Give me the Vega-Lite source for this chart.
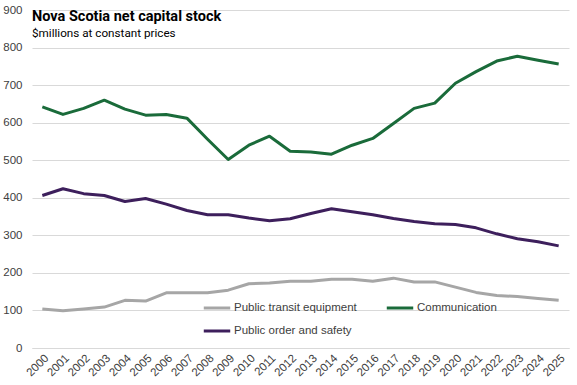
{
  "$schema": "https://vega.github.io/schema/vega-lite/v6.json",
  "width": 537,
  "height": 338,
  "autosize": {"type": "none"},
  "padding": {"left": 32, "top": 10, "right": 8, "bottom": 37},
  "background": "white",
  "config": {
    "view": {"stroke": null},
    "font": "Liberation Sans"
  },
  "title": {
    "text": "Nova Scotia net capital stock",
    "subtitle": "$millions at constant prices",
    "anchor": "start",
    "frame": "group",
    "orient": "top",
    "offset": -37,
    "fontSize": 14.5,
    "fontWeight": "bold",
    "font": "Roboto",
    "color": "#000000",
    "subtitleFontSize": 11.7,
    "subtitleFont": "Roboto",
    "subtitleColor": "#000000",
    "subtitlePadding": 4
  },
  "data": {
    "values": [
      {"year": "2000", "series": "Public transit equipment", "value": 104},
      {"year": "2001", "series": "Public transit equipment", "value": 99},
      {"year": "2002", "series": "Public transit equipment", "value": 104},
      {"year": "2003", "series": "Public transit equipment", "value": 109},
      {"year": "2004", "series": "Public transit equipment", "value": 127},
      {"year": "2005", "series": "Public transit equipment", "value": 125},
      {"year": "2006", "series": "Public transit equipment", "value": 147},
      {"year": "2007", "series": "Public transit equipment", "value": 147},
      {"year": "2008", "series": "Public transit equipment", "value": 147},
      {"year": "2009", "series": "Public transit equipment", "value": 154},
      {"year": "2010", "series": "Public transit equipment", "value": 171},
      {"year": "2011", "series": "Public transit equipment", "value": 173},
      {"year": "2012", "series": "Public transit equipment", "value": 178},
      {"year": "2013", "series": "Public transit equipment", "value": 178},
      {"year": "2014", "series": "Public transit equipment", "value": 183},
      {"year": "2015", "series": "Public transit equipment", "value": 183},
      {"year": "2016", "series": "Public transit equipment", "value": 178},
      {"year": "2017", "series": "Public transit equipment", "value": 186},
      {"year": "2018", "series": "Public transit equipment", "value": 176},
      {"year": "2019", "series": "Public transit equipment", "value": 176},
      {"year": "2020", "series": "Public transit equipment", "value": 162},
      {"year": "2021", "series": "Public transit equipment", "value": 148},
      {"year": "2022", "series": "Public transit equipment", "value": 140},
      {"year": "2023", "series": "Public transit equipment", "value": 137},
      {"year": "2024", "series": "Public transit equipment", "value": 132},
      {"year": "2025", "series": "Public transit equipment", "value": 127},
      {"year": "2000", "series": "Communication", "value": 642},
      {"year": "2001", "series": "Communication", "value": 622},
      {"year": "2002", "series": "Communication", "value": 638},
      {"year": "2003", "series": "Communication", "value": 660},
      {"year": "2004", "series": "Communication", "value": 636},
      {"year": "2005", "series": "Communication", "value": 620},
      {"year": "2006", "series": "Communication", "value": 622},
      {"year": "2007", "series": "Communication", "value": 612},
      {"year": "2008", "series": "Communication", "value": 556},
      {"year": "2009", "series": "Communication", "value": 502},
      {"year": "2010", "series": "Communication", "value": 540},
      {"year": "2011", "series": "Communication", "value": 564},
      {"year": "2012", "series": "Communication", "value": 524},
      {"year": "2013", "series": "Communication", "value": 522},
      {"year": "2014", "series": "Communication", "value": 516},
      {"year": "2015", "series": "Communication", "value": 540},
      {"year": "2016", "series": "Communication", "value": 558},
      {"year": "2017", "series": "Communication", "value": 598},
      {"year": "2018", "series": "Communication", "value": 638},
      {"year": "2019", "series": "Communication", "value": 652},
      {"year": "2020", "series": "Communication", "value": 705},
      {"year": "2021", "series": "Communication", "value": 736},
      {"year": "2022", "series": "Communication", "value": 764},
      {"year": "2023", "series": "Communication", "value": 777},
      {"year": "2024", "series": "Communication", "value": 766},
      {"year": "2025", "series": "Communication", "value": 756},
      {"year": "2000", "series": "Public order and safety", "value": 406},
      {"year": "2001", "series": "Public order and safety", "value": 424},
      {"year": "2002", "series": "Public order and safety", "value": 411},
      {"year": "2003", "series": "Public order and safety", "value": 406},
      {"year": "2004", "series": "Public order and safety", "value": 390},
      {"year": "2005", "series": "Public order and safety", "value": 398},
      {"year": "2006", "series": "Public order and safety", "value": 383},
      {"year": "2007", "series": "Public order and safety", "value": 366},
      {"year": "2008", "series": "Public order and safety", "value": 355},
      {"year": "2009", "series": "Public order and safety", "value": 355},
      {"year": "2010", "series": "Public order and safety", "value": 346},
      {"year": "2011", "series": "Public order and safety", "value": 339},
      {"year": "2012", "series": "Public order and safety", "value": 344},
      {"year": "2013", "series": "Public order and safety", "value": 358},
      {"year": "2014", "series": "Public order and safety", "value": 371},
      {"year": "2015", "series": "Public order and safety", "value": 363},
      {"year": "2016", "series": "Public order and safety", "value": 355},
      {"year": "2017", "series": "Public order and safety", "value": 345},
      {"year": "2018", "series": "Public order and safety", "value": 337},
      {"year": "2019", "series": "Public order and safety", "value": 331},
      {"year": "2020", "series": "Public order and safety", "value": 329},
      {"year": "2021", "series": "Public order and safety", "value": 320},
      {"year": "2022", "series": "Public order and safety", "value": 304},
      {"year": "2023", "series": "Public order and safety", "value": 291},
      {"year": "2024", "series": "Public order and safety", "value": 283},
      {"year": "2025", "series": "Public order and safety", "value": 272}
    ]
  },
  "mark": {"type": "line", "strokeWidth": 3, "strokeJoin": "round"},
  "encoding": {
    "x": {
      "field": "year",
      "type": "ordinal",
      "scale": {"paddingInner": 0, "paddingOuter": 0.5},
      "axis": {
        "title": null,
        "labelAngle": -45,
        "ticks": false,
        "domainColor": "#d9d9d9",
        "labelFontSize": 11.5,
        "labelColor": "#404040",
        "labelPadding": 4
      }
    },
    "y": {
      "field": "value",
      "type": "quantitative",
      "scale": {"domain": [0, 900], "nice": false},
      "axis": {
        "title": null,
        "values": [0, 100, 200, 300, 400, 500, 600, 700, 800, 900],
        "domain": false,
        "ticks": false,
        "gridColor": "#d9d9d9",
        "labelFontSize": 11.5,
        "labelColor": "#404040",
        "labelPadding": 10
      }
    },
    "color": {
      "field": "series",
      "type": "nominal",
      "sort": ["Public transit equipment", "Communication", "Public order and safety"],
      "scale": {
        "domain": ["Public transit equipment", "Communication", "Public order and safety"],
        "range": ["#a6a6a6", "#1a6b3a", "#3d1f5c"]
      },
      "legend": {
        "title": null,
        "orient": "none",
        "legendX": 170,
        "legendY": 283,
        "columns": 2,
        "direction": "horizontal",
        "symbolType": "stroke",
        "symbolStrokeWidth": 3,
        "symbolSize": 700,
        "labelFontSize": 11.5,
        "labelColor": "#404040",
        "columnPadding": 23,
        "rowPadding": 2,
        "labelOffset": 2
      }
    }
  }
}
